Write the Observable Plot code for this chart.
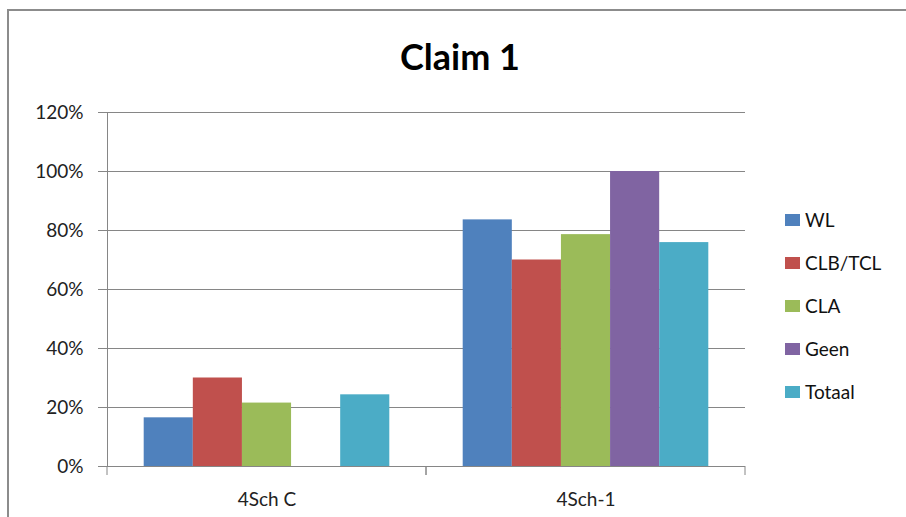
<!DOCTYPE html>
<html>
<head>
<meta charset="utf-8">
<script src="https://cdn.jsdelivr.net/npm/d3@7"></script>
<script src="https://cdn.jsdelivr.net/npm/@observablehq/plot@0.6"></script>
<style>
  html, body { margin: 0; padding: 0; background: #fff; }
  body { width: 906px; height: 517px; overflow: hidden; position: relative; font-family: Lato, "Open Sans", sans-serif; }
  #border { position: absolute; left: 7px; top: 9px; width: 1000px; height: 1000px; border-left: 2px solid #8c8c8c; border-top: 2px solid #8c8c8c; box-sizing: border-box; }
  #title { position: absolute; left: 0; top: 0; width: 920px; height: 100px; text-align: center; font-weight: bold; font-size: 36px; line-height: 100px; color: #000; font-family: Lato, sans-serif; padding-top: 6px; box-sizing: border-box; }
  #chart { position: absolute; left: 0; top: 100px; }
  #legend { position: absolute; left: 785px; top: 198px; font-size: 19px; color: #111; }
  .item { height: 43.1px; display: flex; align-items: center; white-space: nowrap; }
  .sw { width: 15px; height: 12px; margin-right: 5px; display: inline-block; }
</style>
</head>
<body>
<div id="border"></div>
<div id="title">Claim 1</div>
<div id="chart"></div>
<div id="legend"></div>
<script>
const categories = ["4Sch C", "4Sch-1"];
const series = ["WL", "CLB/TCL", "CLA", "Geen", "Totaal"];
const colors = ["#4F81BD", "#C0504D", "#9BBB59", "#8064A2", "#4BACC6"];
const values4SchC = [0.165, 0.30, 0.215, 0, 0.243];
const values4Sch1 = [0.836, 0.70, 0.786, 1.0, 0.759];
const yTicks = [0, 0.2, 0.4, 0.6, 0.8, 1.0, 1.2];

const data = [];
series.forEach((s, i) => {
  data.push({cat: categories[0], series: s, value: values4SchC[i]});
  data.push({cat: categories[1], series: s, value: values4Sch1[i]});
});

const gridColor = "#868686";

const boundaryTicks = (index, scales, values, dims) => {
  const y0 = scales.y(0);
  const g = d3.create("svg:g");
  for (const xb of [dims.marginLeft, dims.width - dims.marginRight]) {
    g.append("line").attr("x1", xb).attr("x2", xb).attr("y1", y0).attr("y2", y0 + 9)
      .attr("stroke", gridColor).attr("stroke-width", 1);
  }
  return g.node();
};

const plot = Plot.plot({
  width: 906,
  height: 417,
  marginTop: 12,
  marginBottom: 51,
  marginLeft: 106,
  marginRight: 161,
  style: {fontFamily: "Lato, 'Open Sans', sans-serif", background: "transparent"},
  fx: {domain: categories, padding: 0, label: null},
  x: {domain: series, paddingInner: 0, paddingOuter: 0.747, round: false, axis: null},
  y: {domain: [0, 1.2], label: null},
  color: {domain: series, range: colors},
  marks: [
    Plot.gridY(yTicks, {stroke: gridColor, strokeOpacity: 1, strokeWidth: 1}),
    Plot.barY(data, {fx: "cat", x: "series", y: "value", fill: "series"}),
    Plot.ruleY([0], {stroke: gridColor, strokeWidth: 1}),
    Plot.frame({anchor: "left", facetAnchor: "left", stroke: gridColor, strokeWidth: 1}),
    boundaryTicks,
    Plot.axisY(yTicks, {tickFormat: d3.format(".0%"), tickSize: 9, tickPadding: 15, fontSize: 19, stroke: gridColor, strokeOpacity: 1, fill: "#222", label: null}),
    Plot.axisFx({anchor: "bottom", tickSize: 0, tickPadding: 26, fontSize: 19, fill: "#222", label: null})
  ]
});
document.getElementById("chart").appendChild(plot);

const legend = d3.select("#legend");
series.forEach((s, i) => {
  const item = legend.append("div").attr("class", "item");
  item.append("span").attr("class", "sw").style("background", colors[i]);
  item.append("span").text(s);
});
</script>
</body>
</html>
